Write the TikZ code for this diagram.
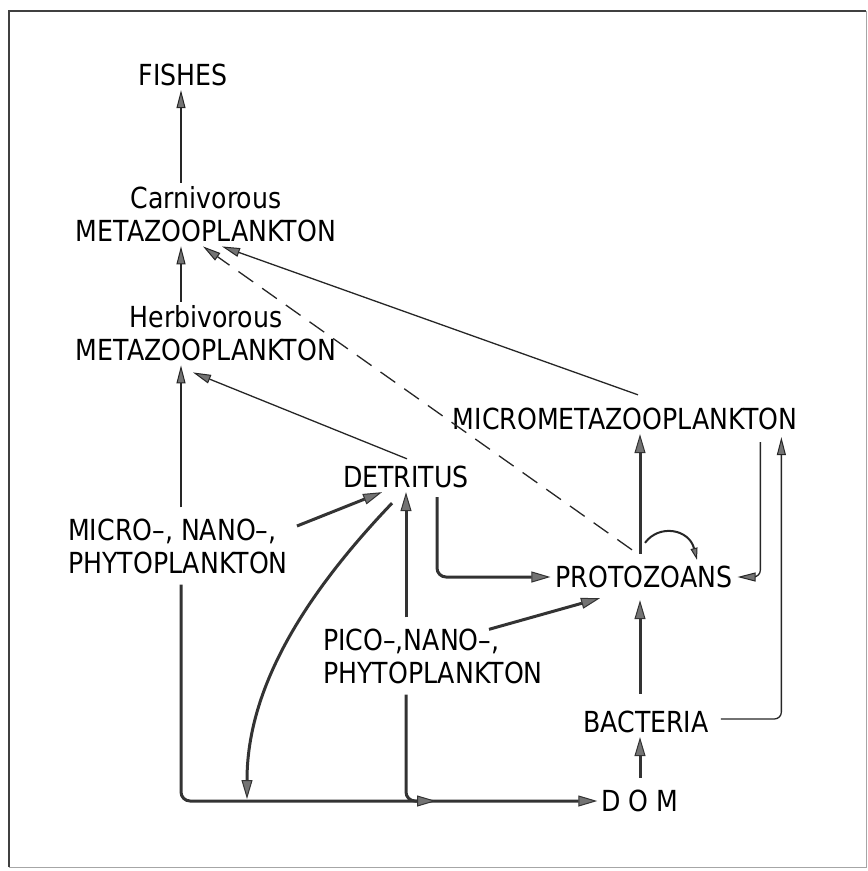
\documentclass[tikz,border=0pt]{standalone}
\usepackage{fontspec}
\setmainfont[FakeStretch=0.87]{DejaVu Sans}
\usetikzlibrary{arrows.meta,calc}

\begin{document}
\begin{tikzpicture}[x=1pt,y=-1pt,font=\fontsize{29}{33}\selectfont]
  \tikzstyle{taxon} = [inner sep=4pt, align=center]
  \tikzstyle{phyto} = [inner xsep=4pt, inner ysep=11pt, align=left, anchor=west]
  \tikzstyle{flow} = [line width=1.3pt, draw=black!85, -{Triangle[length=18pt,width=9pt,line width=1pt,fill=black!55]}]
  \tikzstyle{heavy} = [line width=3pt, draw=black!80, -{Triangle[length=19pt,width=11pt,line width=1pt,fill=black!55]}]

  \useasboundingbox (0,0) rectangle (868,871);

  % 边框
  \draw[line width=1.2pt, black!75] (9,867) -- (9,11) -- (866,11);
  \draw[line width=0.8pt, black!35] (866,11) -- (866,867) -- (9,867);

  % 定义节点
  \coordinate (spine) at (181,0);
  \node[taxon] (fishes) at (183,75) {FISHES};
  \node[taxon] (carn) at (206,214.5) {Carnivorous\\METAZOOPLANKTON};
  \node[taxon] (herb) at (206,333.5) {Herbivorous\\METAZOOPLANKTON};
  \node[taxon] (micro) at (625,419) {MICROMETAZOOPLANKTON};
  \node[taxon] (detritus) at (406,477) {DETRITUS};
  \node[phyto] (mphyto) at (64,546) {MICRO–, NANO–,\\PHYTOPLANKTON};
  \node[taxon, inner xsep=5pt, inner ysep=12pt] (proto) at (644,577) {PROTOZOANS};
  \node[phyto] (pphyto) at (319,656) {PICO–,NANO–,\\PHYTOPLANKTON};
  \node[taxon] (bacteria) at (646,722) {BACTERIA};
  \node[taxon] (dom) at (640,801) {D O M};
  \coordinate (detfall) at (247,799);
  \coordinate (picojoin) at ($(detritus.south |- dom.west)+(30,0)$);

  % 左侧主干
  \draw[flow] (spine |- carn.north) -- (spine |- fishes.south);
  \draw[flow] (spine |- herb.north) -- (spine |- carn.south);
  \draw[flow] (spine |- mphyto.north) -- (spine |- herb.south);
  \draw[heavy, rounded corners=9pt] (spine |- mphyto.south) |- (dom.west);

  % 碎屑
  \draw[heavy] ($(mphyto.east)+(5,-20)$) -- ($(detritus.south)+(-24,0)$);
  \draw[flow] ($(detritus.north)+(1,-3)$) -- ($(herb.south)+(-13,7)$);
  \draw[heavy] (detritus.south |- pphyto.north) -- (detritus.south);
  \draw[heavy, rounded corners=9pt] (detritus.south |- pphyto.south) |- (picojoin);
  \draw[heavy] ($(detritus.south)+(-14,11)$) .. controls (290,610) and (247,700) .. (detfall);
  \draw[heavy, rounded corners=9pt] ($(detritus.south)+(31,5)$) |- (proto.west);

  % 原生动物与细菌
  \draw[heavy] ($(pphyto.north)+(56,12)$) -- ($(proto.south)+(-44,-2)$);
  \draw[heavy] ($(dom.north |- bacteria.north)+(0,-13)$) -- (dom.north |- proto.south);
  \draw[heavy] ($(dom.north)+(0,-8)$) -- (dom.north |- bacteria.south);
  \draw[heavy] (dom.north |- proto.north) -- (dom.north |- micro.south);
  \draw[flow, rounded corners=7pt] ($(bacteria.east)+(8,-3)$) -| ($(micro.south east)+(-20,3)$);
  \draw[flow, rounded corners=7pt] ($(micro.south east)+(-41,8)$) |- (proto.east);
  \draw[line width=2pt, draw=black!85, -{Triangle[length=12pt,width=7pt,line width=1pt,fill=black!55]}]
    ($(proto.north)+(1,-11)$) .. controls ($(proto.north)+(15,-30)$) and ($(proto.north)+(45,-25)$) .. ($(proto.north)+(53,6)$);

  % 回到食肉浮游动物
  \draw[flow, dash pattern=on 18pt off 11pt] ($(proto.north)+(-12,-4)$) -- ($(carn.south)+(-3,0)$);
  \draw[flow] ($(micro.north)+(13,-9)$) -- ($(carn.south)+(16,0)$);
\end{tikzpicture}
\end{document}
